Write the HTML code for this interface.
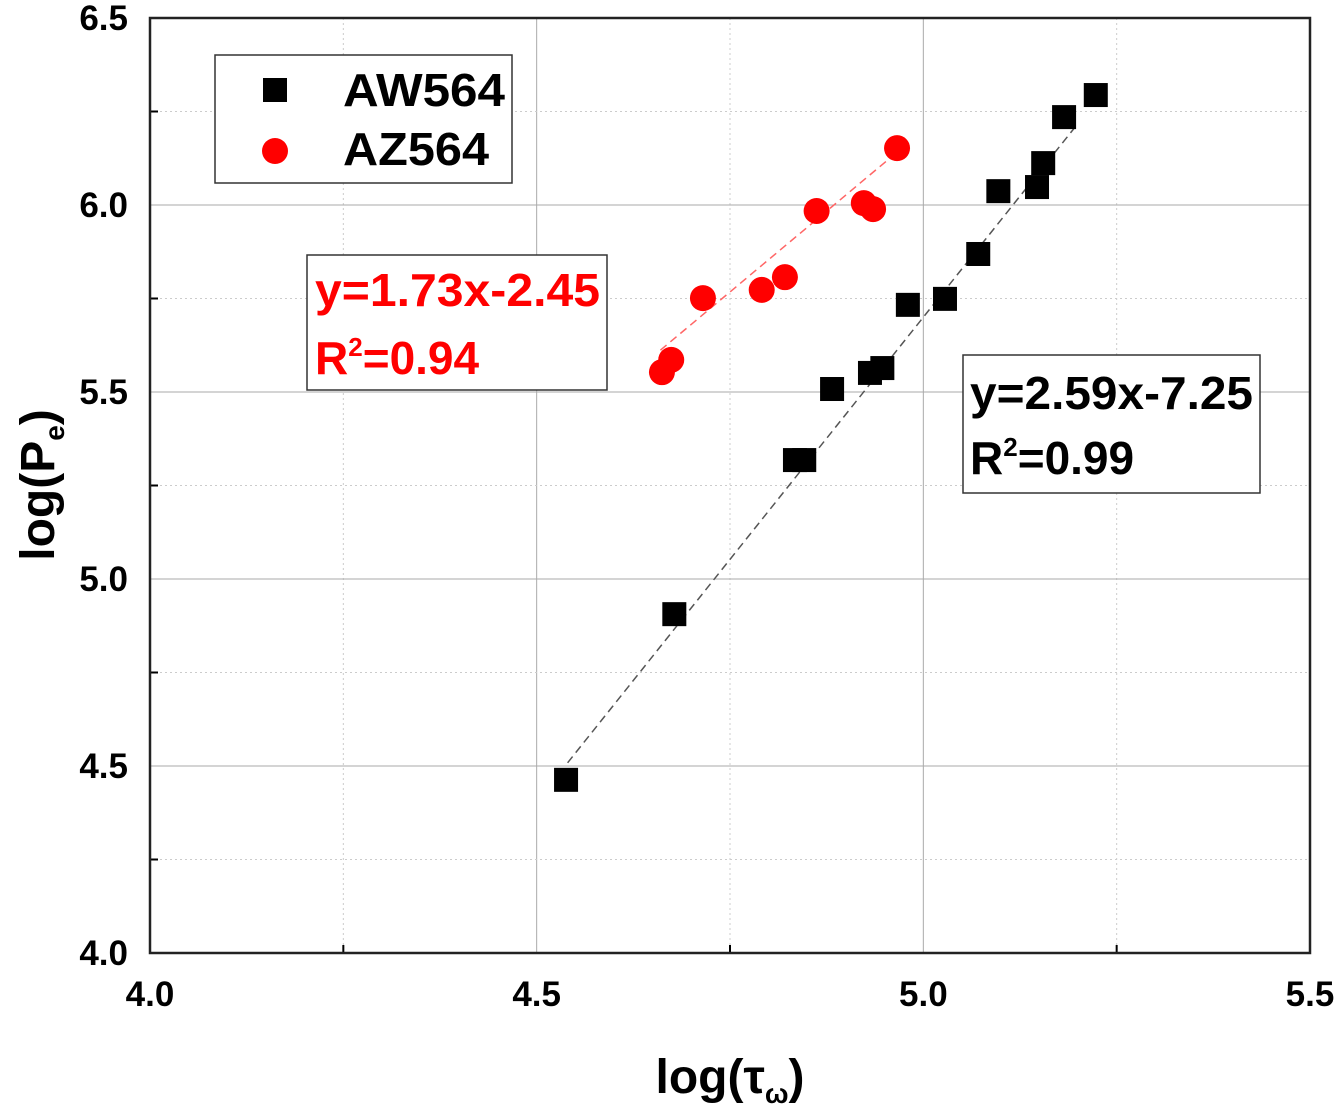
<!DOCTYPE html>
<html><head><meta charset="utf-8"><style>
html,body{margin:0;padding:0;background:#fff;}
svg{display:block;font-family:"Liberation Sans",Arial,sans-serif;font-weight:bold;}
</style></head><body>
<svg id="chart" width="1339" height="1113" viewBox="0 0 1339 1113">
<g id="grid"></g>
<g id="fits"></g>
<g id="marks"></g>
<g id="axes"></g>
<text x="730" y="1093" font-size="48" text-anchor="middle">log(τ<tspan font-size="28" dy="10">ω</tspan><tspan dy="-10">)</tspan></text>
<text transform="translate(54,485) rotate(-90)" font-size="48" text-anchor="middle">log(P<tspan font-size="28" dy="10">e</tspan><tspan dy="-10">)</tspan></text>
<g>
<rect x="215" y="55" width="297" height="128" fill="#fff" stroke="#333" stroke-width="1.5"/>
<rect x="263" y="78" width="24" height="24" fill="#000"/>
<text x="343" y="106" font-size="46" textLength="162" lengthAdjust="spacingAndGlyphs">AW564</text>
<circle cx="275" cy="151" r="13" fill="#f00"/>
<text x="343" y="165" font-size="46" textLength="146" lengthAdjust="spacingAndGlyphs">AZ564</text>
</g>
<g>
<rect x="307" y="255" width="300" height="135" fill="#fff" stroke="#333" stroke-width="1.5"/>
<text x="315" y="306" font-size="46" fill="#f00" textLength="285" lengthAdjust="spacingAndGlyphs">y=1.73x-2.45</text>
<text x="315" y="374" font-size="46" fill="#f00">R<tspan font-size="26" dy="-18">2</tspan><tspan dy="18">=0.94</tspan></text>
</g>
<g>
<rect x="963" y="355" width="297" height="138" fill="#fff" stroke="#333" stroke-width="1.5"/>
<text x="970" y="409" font-size="46" textLength="283" lengthAdjust="spacingAndGlyphs">y=2.59x-7.25</text>
<text x="970" y="474" font-size="46">R<tspan font-size="26" dy="-18">2</tspan><tspan dy="18">=0.99</tspan></text>
</g>
</svg>
<script>
const xTicks=[4.0,4.5,5.0,5.5];
const yTicks=[4.0,4.5,5.0,5.5,6.0,6.5];
const awX=[4.538,4.678,4.834,4.846,4.882,4.931,4.947,4.980,5.028,5.071,5.097,5.147,5.155,5.182,5.223];
const awY=[4.463,4.906,5.318,5.318,5.508,5.551,5.564,5.733,5.749,5.869,6.037,6.048,6.112,6.235,6.294];
const azX=[4.662,4.674,4.715,4.791,4.821,4.862,4.923,4.935,4.966];
const azY=[5.553,5.586,5.751,5.773,5.807,5.984,6.005,5.989,6.152];
const awFit=[2.59,-7.25,4.54,5.2];
const azFit=[1.73,-2.45,4.66,4.97];
const L=150,R=1310,T=18,B=953;
const sx=v=>L+(v-4)/1.5*(R-L);
const sy=v=>B-(v-4)/2.5*(B-T);
const NS='http://www.w3.org/2000/svg';
function mk(t,p,a){const e=document.createElementNS(NS,t);for(const k in a)e.setAttribute(k,a[k]);p.appendChild(e);return e;}
const grid=document.getElementById('grid'),axes=document.getElementById('axes'),marks=document.getElementById('marks'),fits=document.getElementById('fits');
for(let i=0;i<xTicks.length-1;i++){
 const a=xTicks[i],m=(xTicks[i]+xTicks[i+1])/2;
 if(i>0){const l=mk('line',grid,{x1:sx(a),x2:sx(a),y1:T,y2:B,stroke:'#aaa','stroke-width':1});}
 const d=mk('line',grid,{x1:sx(m),x2:sx(m),y1:T,y2:B,stroke:'#ccc','stroke-width':1,'stroke-dasharray':'2,3'});
 
 const t=mk('line',axes,{x1:sx(m),x2:sx(m),y1:B,y2:B-8,stroke:'#000','stroke-width':2});
 
}
for(let i=0;i<yTicks.length-1;i++){
 const a=yTicks[i],m=(yTicks[i]+yTicks[i+1])/2;
 if(i>0){const l=mk('line',grid,{x1:L,x2:R,y1:sy(a),y2:sy(a),stroke:'#aaa','stroke-width':1});}
 const d=mk('line',grid,{x1:L,x2:R,y1:sy(m),y2:sy(m),stroke:'#ccc','stroke-width':1,'stroke-dasharray':'2,3'});
 
 const t=mk('line',axes,{x1:L,x2:L+8,y1:sy(m),y2:sy(m),stroke:'#000','stroke-width':2});
 
}
const frame=mk('rect',axes,{x:L,y:T,width:R-L,height:B-T,fill:'none',stroke:'#222','stroke-width':2.5});

xTicks.forEach(v=>{const t=mk('text',axes,{x:sx(v),y:1006,'font-size':35,'text-anchor':'middle'});t.textContent=v.toFixed(1);
 });
yTicks.forEach(v=>{const t=mk('text',axes,{x:128,y:sy(v)+12,'font-size':35,'text-anchor':'end'});t.textContent=v.toFixed(1);
 });
function fit(f,col,name){const l=mk('line',fits,{x1:sx(f[2]),y1:sy(f[0]*f[2]+f[1]),x2:sx(f[3]),y2:sy(f[0]*f[3]+f[1]),stroke:col,'stroke-width':1.5,'stroke-dasharray':'8,5'});
 }
fit(awFit,'#555','aw564-fit-line');fit(azFit,'#f66','az564-fit-line');
awX.forEach((x,i)=>{const r=mk('rect',marks,{x:sx(x)-12,y:sy(awY[i])-12,width:24,height:24,fill:'#000'});
 });
azX.forEach((x,i)=>{const c=mk('circle',marks,{cx:sx(x),cy:sy(azY[i]),r:13,fill:'#f00'});
 });
</script>
</body></html>
